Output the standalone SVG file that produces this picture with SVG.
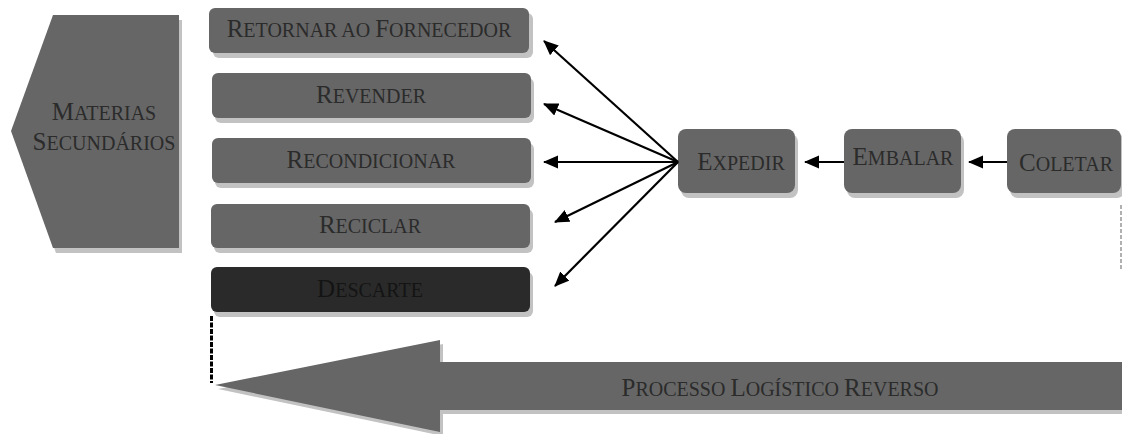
<svg xmlns="http://www.w3.org/2000/svg" width="1122" height="434" viewBox="0 0 1122 434">
<style>
.box{fill:#666666}
.dark{fill:#2a2a2a}
.sh{fill:#c2c2c2}
.lbl{font-family:"Liberation Serif","Times New Roman",serif;font-size:25px;fill:#2b2b2b;text-anchor:middle}
.sc{font-size:20px}
.lbld{fill:#141414}
.conn{stroke:#000;stroke-width:2.2;fill:none;marker-end:url(#ah)}
</style>
<defs>
<marker id="ah" markerUnits="userSpaceOnUse" markerWidth="16" markerHeight="14" refX="14" refY="6.5" orient="auto">
<path d="M0,0 L15,6.5 L0,13 z" fill="#000"/>
</marker>
</defs>
<rect width="1122" height="434" fill="#fff"/>

<g id="materias">
<polygon class="sh" points="56,20 182,20 182,253 56,253 14,136"/>
<polygon class="box" points="53,15 179,15 179,248 53,248 11,131"/>
<text class="lbl" x="104" y="120">M<tspan class="sc">ATERIAS</tspan></text>
<text class="lbl" x="104" y="150">S<tspan class="sc">ECUNDÁRIOS</tspan></text>
</g>

<g id="retornar">
<rect class="sh" x="213" y="13" width="320" height="45" rx="6"/>
<rect class="box" x="209" y="8" width="320" height="45" rx="6"/>
<text class="lbl" x="369" y="37">R<tspan class="sc">ETORNAR AO </tspan>F<tspan class="sc">ORNECEDOR</tspan></text>
</g>

<g id="revender">
<rect class="sh" x="215" y="78" width="319" height="45" rx="6"/>
<rect class="box" x="212" y="73" width="319" height="45" rx="6"/>
<text class="lbl" x="371" y="103">R<tspan class="sc">EVENDER</tspan></text>
</g>

<g id="recondicionar">
<rect class="sh" x="215" y="143" width="319" height="45" rx="6"/>
<rect class="box" x="212" y="138" width="319" height="45" rx="6"/>
<text class="lbl" x="371" y="168">R<tspan class="sc">ECONDICIONAR</tspan></text>
</g>

<g id="reciclar">
<rect class="sh" x="214" y="209" width="319" height="44" rx="6"/>
<rect class="box" x="211" y="204" width="319" height="44" rx="6"/>
<text class="lbl" x="370" y="233">R<tspan class="sc">ECICLAR</tspan></text>
</g>

<g id="descarte">
<rect class="sh" x="214" y="272" width="319" height="45" rx="6"/>
<rect class="dark" x="211" y="267" width="319" height="45" rx="6"/>
<text class="lbl lbld" x="370" y="297">D<tspan class="sc">ESCARTE</tspan></text>
</g>

<g id="expedir">
<rect class="sh" x="681" y="134" width="117" height="64" rx="8"/>
<rect class="box" x="678" y="129" width="117" height="64" rx="8"/>
<text class="lbl" x="741" y="170">E<tspan class="sc">XPEDIR</tspan></text>
</g>

<g id="embalar">
<rect class="sh" x="847" y="134" width="117" height="64" rx="8"/>
<rect class="box" x="844" y="129" width="117" height="64" rx="8"/>
<text class="lbl" x="903" y="165">E<tspan class="sc">MBALAR</tspan></text>
</g>

<g id="coletar">
<rect class="sh" x="1010" y="134" width="115" height="64" rx="8"/>
<rect class="box" x="1007" y="129" width="114" height="64" rx="8"/>
<text class="lbl" x="1066" y="171">C<tspan class="sc">OLETAR</tspan></text>
</g>

<g id="processo">
<polygon class="sh" points="218,389 443,344 443,366 1122,366 1122,414 443,414 443,436"/>
<polygon class="box" points="215,385 440,340 440,362 1122,362 1122,410 440,410 440,432"/>
<text class="lbl" x="780" y="396">P<tspan class="sc">ROCESSO </tspan>L<tspan class="sc">OGÍSTICO </tspan>R<tspan class="sc">EVERSO</tspan></text>
</g>

<g id="connectors">
<line class="conn" x1="678" y1="162" x2="544" y2="41"/>
<line class="conn" x1="678" y1="162" x2="544" y2="104"/>
<line class="conn" x1="678" y1="162" x2="544" y2="162"/>
<line class="conn" x1="678" y1="162" x2="555" y2="222"/>
<line class="conn" x1="678" y1="162" x2="555" y2="286"/>
<line class="conn" x1="844" y1="162" x2="805" y2="162"/>
<line class="conn" x1="1007" y1="162" x2="969" y2="162"/>
<line x1="211.5" y1="316" x2="211.5" y2="383" stroke="#000" stroke-width="3" stroke-dasharray="5,1.5"/>
<line x1="1121" y1="205" x2="1121" y2="270" stroke="#b0b0b0" stroke-width="2" stroke-dasharray="4,2"/>
</g>
</svg>
